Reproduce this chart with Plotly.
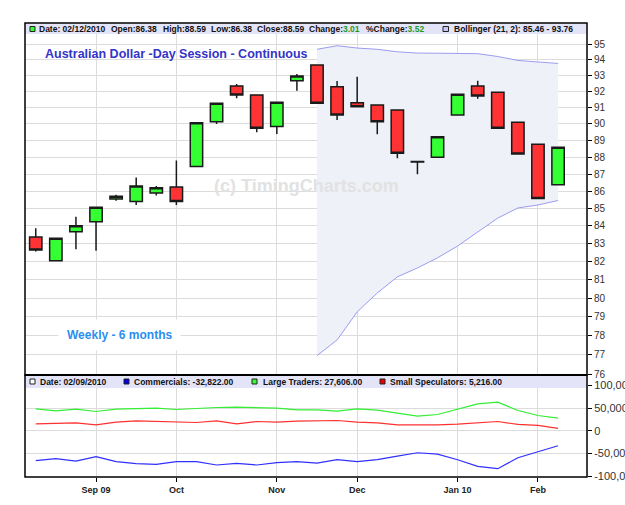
import math
import plotly.graph_objects as go

# ---------------- data ----------------
dates = ["2009-08-14", "2009-08-21", "2009-08-28", "2009-09-04", "2009-09-11", "2009-09-18",
         "2009-09-25", "2009-10-02", "2009-10-09", "2009-10-16", "2009-10-23", "2009-10-30",
         "2009-11-06", "2009-11-13", "2009-11-20", "2009-11-27", "2009-12-04", "2009-12-11",
         "2009-12-18", "2009-12-25", "2010-01-01", "2010-01-08", "2010-01-15", "2010-01-22",
         "2010-01-29", "2010-02-05", "2010-02-12"]
opens = [83.37, 82.05, 83.68, 84.24, 85.55, 85.40, 85.90, 86.25, 87.45, 90.14, 92.34, 91.78,
         89.84, 92.67, 93.66, 92.30, 91.30, 91.16, 90.85, 87.74, 87.99, 90.55, 92.34, 91.95,
         90.10, 88.77, 86.38]
highs = [83.87, 83.35, 84.53, 85.10, 85.80, 86.80, 86.30, 87.80, 90.10, 91.30, 92.46, 91.80,
         91.35, 93.09, 93.68, 92.65, 92.92, 91.18, 90.87, 87.76, 89.23, 91.82, 92.67, 91.97,
         90.12, 88.79, 88.59]
lows = [82.56, 82.05, 82.69, 82.60, 85.45, 85.20, 85.75, 85.20, 87.45, 90.00, 91.58, 89.50,
        89.39, 92.05, 91.25, 90.24, 91.04, 89.37, 87.93, 86.99, 87.97, 90.53, 91.55, 89.72,
        88.17, 85.56, 86.38]
closes = [82.65, 83.31, 84.02, 85.07, 85.70, 86.30, 86.20, 85.40, 90.08, 91.27, 91.78, 89.74,
          91.33, 92.97, 91.27, 90.55, 91.06, 90.14, 88.24, 87.72, 89.23, 91.82, 91.72, 89.74,
          88.19, 85.58, 88.59]

boll_dates = dates[14:]
boll_upper = [94.66, 94.89, 94.74, 94.66, 94.50, 94.42, 94.41, 94.41, 94.38, 94.20, 93.95, 93.85, 93.76]
boll_lower = [76.95, 77.77, 79.26, 80.28, 81.16, 81.65, 82.21, 82.87, 83.66, 84.45, 85.03, 85.20, 85.46]

commercials = [-65700, -61300, -66400, -56900, -67900, -72300, -73700, -67900, -67900, -75200,
               -71500, -75200, -70100, -67900, -71000, -63500, -67900, -63500, -55500, -48200,
               -51100, -63500, -78100, -83200, -59100, -46700, -32822]
large_traders = [48200, 43800, 47500, 42300, 47500, 48200, 49600, 46700, 49600, 51100, 51800,
                 50400, 49600, 46000, 46000, 43100, 48200, 45300, 38700, 32100, 35800, 46700,
                 59100, 62800, 44500, 33600, 27606]
small_specs = [15300, 16800, 17500, 13100, 19000, 21900, 21200, 19000, 18200, 21900, 15300,
               20400, 19000, 21200, 22000, 22600, 19000, 17500, 13100, 12400, 13100, 14600,
               16800, 20400, 13900, 11700, 5216]

price_ticks = list(range(76, 96))
cot_ticks = [-100000, -50000, 0, 50000, 100000]
cot_ticktext = ["-100,000", "-50,000", "0", "50,000", "100,000"]
month_ticks = ["2009-09-04", "2009-10-02", "2009-11-06", "2009-12-04", "2010-01-08", "2010-02-05"]
month_labels = ["Sep 09", "Oct", "Nov", "Dec", "Jan 10", "Feb"]
cot_date = "02/09/2010"
last_date = "02/12/2010"

# ---------------- geometry helpers ----------------
W, H = 625, 505
L, R, T, B = 25, 38, 23, 28
PW, PH = W - L - R, H - T - B


def px(xp):
    return (xp - L) / PW


def py(yp):
    return (H - B - yp) / PH


split = py(375)

FONT = "Liberation Sans, Arial, sans-serif"
GRID = "#dcdcdc"

fig = go.Figure()

# Bollinger band (fill between) on the base price subplot
fig.add_trace(go.Scatter(x=boll_dates, y=boll_upper, mode="lines",
                         line=dict(color="#9c9cf0", width=1), xaxis="x", yaxis="y",
                         hoverinfo="skip", showlegend=False))
fig.add_trace(go.Scatter(x=boll_dates, y=boll_lower, mode="lines", fill="tonexty",
                         fillcolor="#eef1f7", line=dict(color="#9c9cf0", width=1),
                         xaxis="x", yaxis="y", hoverinfo="skip", showlegend=False))

# candles on an overlaying subplot (drawn above the band fill)
fig.add_trace(go.Candlestick(
    x=dates, open=opens, high=highs, low=lows, close=closes, xaxis="x3", yaxis="y3",
    increasing=dict(fillcolor="#33ff33", line=dict(color="#1a1a1a", width=1.5)),
    decreasing=dict(fillcolor="#ff3333", line=dict(color="#1a1a1a", width=1.5)),
    whiskerwidth=0, showlegend=False, hoverinfo="skip"))

# COT lines
fig.add_trace(go.Scatter(x=dates, y=large_traders, mode="lines", line=dict(color="#33ee33", width=1.2),
                         xaxis="x2", yaxis="y2", showlegend=False, hoverinfo="skip"))
fig.add_trace(go.Scatter(x=dates, y=small_specs, mode="lines", line=dict(color="#ff3030", width=1.2),
                         xaxis="x2", yaxis="y2", showlegend=False, hoverinfo="skip"))
fig.add_trace(go.Scatter(x=dates, y=commercials, mode="lines", line=dict(color="#3030ff", width=1.2),
                         xaxis="x2", yaxis="y2", showlegend=False, hoverinfo="skip"))

xrange = ["2009-08-10 06:00", "2010-02-22 02:00"]
ylo = 76 * math.exp(-1 / 1479)
yhi = 95 * math.exp(21 / 1479)
yrange = [math.log10(ylo), math.log10(yhi)]

tickfont = dict(family=FONT, size=10, color="#333333")

fig.update_layout(
    width=W, height=H, margin=dict(l=L, r=R, t=T, b=B, autoexpand=False),
    paper_bgcolor="white", plot_bgcolor="white", showlegend=False, boxgap=0.12,
    xaxis=dict(domain=[0, 1], anchor="y", type="date", range=xrange, tickvals=month_ticks,
               showticklabels=False, ticks="", showgrid=True, gridcolor=GRID, gridwidth=1,
               zeroline=False, rangeslider=dict(visible=False), automargin=False),
    xaxis3=dict(domain=[0, 1], anchor="y3", overlaying="x", type="date", range=xrange,
                visible=False, showgrid=False, zeroline=False, rangeslider=dict(visible=False),
                automargin=False),
    xaxis2=dict(domain=[0, 1], anchor="y2", type="date", range=xrange,
                tickvals=month_ticks, ticktext=month_labels, ticks="outside", ticklen=4,
                tickcolor="#000", showgrid=True, gridcolor=GRID, gridwidth=1, zeroline=False,
                tickfont=dict(family=FONT, size=9, color="#222222", weight="bold"),
                rangeslider=dict(visible=False), automargin=False),
    yaxis=dict(domain=[split, 1], anchor="x", type="log", range=yrange, tickvals=price_ticks,
               ticktext=[str(v) for v in price_ticks], side="right", ticks="outside",
               ticklen=4, tickcolor="#000", showgrid=True, gridcolor=GRID, gridwidth=1,
               zeroline=False, tickfont=tickfont, automargin=False),
    yaxis3=dict(domain=[split, 1], anchor="x3", overlaying="y", type="log", range=yrange,
                visible=False, showgrid=False, zeroline=False, automargin=False),
    yaxis2=dict(domain=[0, split], anchor="x2", range=[-101500, 122500], tickvals=cot_ticks,
                ticktext=cot_ticktext, side="right", ticks="outside", ticklen=4, tickcolor="#000",
                showgrid=True, gridcolor=GRID, gridwidth=1, zeroline=False,
                tickfont=dict(family=FONT, size=11, color="#333333"), automargin=False),
)

shapes = []
LAV = "#e4e4f8"
# header bars
shapes.append(dict(type="rect", xref="paper", yref="paper", x0=px(25.5), x1=px(586.5),
                   y0=py(34), y1=py(23.5), fillcolor=LAV, line=dict(width=0), layer="above"))
shapes.append(dict(type="rect", xref="paper", yref="paper", x0=px(25.5), x1=px(586.5),
                   y0=py(388), y1=py(376), fillcolor=LAV, line=dict(width=0), layer="above"))


# legend squares
def sq(x0, x1, yc, fill):
    return dict(type="rect", xref="paper", yref="paper", x0=px(x0), x1=px(x1),
                y0=py(yc + 2.5), y1=py(yc - 2.5), fillcolor=fill,
                line=dict(color="#222222", width=1), layer="above")


shapes += [sq(30, 35, 29, "#33ff33"), sq(443, 448.5, 29, "#c8c8f4"),
           sq(30, 35, 381.5, "#ffffff"), sq(124, 129, 381.5, "#0000ee"),
           sq(252, 257, 381.5, "#33ff33"), sq(380, 385, 381.5, "#ee0000")]
# frames
shapes.append(dict(type="rect", xref="paper", yref="paper", x0=0, x1=1, y0=split, y1=1,
                   line=dict(color="#000", width=1.5), layer="above"))
shapes.append(dict(type="rect", xref="paper", yref="paper", x0=0, x1=1, y0=0, y1=split,
                   line=dict(color="#000", width=1.5), layer="above"))
shapes.append(dict(type="line", xref="paper", yref="paper", x0=0, x1=1, y0=split, y1=split,
                   line=dict(color="#000", width=2.2), layer="above"))

ann = []


def txt(x, y, s, size=8.5, color="#111111", bold=True, **kw):
    d = dict(xref="paper", yref="paper", x=px(x), y=py(y), xanchor="left", yanchor="middle",
             text=s, showarrow=False,
             font=dict(family=FONT, size=size, color=color, weight="bold" if bold else "normal"))
    d.update(kw)
    return d


chg = closes[-1] - closes[-2]
pct = chg / closes[-2] * 100
G = "#1f9a1f"
ann += [
    txt(37, 29, f"Date: {last_date}"),
    txt(109, 29, f"Open:{opens[-1]:.2f}"),
    txt(161, 29, f"High:{highs[-1]:.2f}"),
    txt(209, 29, f"Low:{lows[-1]:.2f}"),
    txt(255, 29, f"Close:{closes[-1]:.2f}"),
    txt(307, 29, f"Change:<span style='color:{G}'>{chg:.2f}</span>"),
    txt(364, 29, f"%Change:<span style='color:{G}'>{pct:.2f}</span>"),
    txt(452, 29, f"Bollinger (21, 2): {boll_lower[-1]:.2f} - {boll_upper[-1]:.2f}"),
    txt(38, 381.5, f"Date: {cot_date}"),
    txt(132, 381.5, f"Commercials: {commercials[-1]:,.2f}"),
    txt(261, 381.5, f"Large Traders: {large_traders[-1]:,.2f}"),
    txt(388, 381.5, f"Small Speculators: {small_specs[-1]:,.2f}"),
    txt(43, 54, "Australian Dollar -Day Session - Continuous", size=12.5, color="#3434c8"),
    txt(58, 335, "Weekly - 6 months", size=12, color="#2b8ef0", bgcolor="#ffffff", borderpad=8),
    dict(xref="paper", yref="paper", x=px(306), y=py(186), xanchor="center", yanchor="middle",
         text="(c) TimingCharts.com", showarrow=False,
         font=dict(family=FONT, size=18, color="#e2e2e2", weight="bold")),
]

fig.update_layout(shapes=shapes, annotations=ann)
fig.write_html("out.html")
